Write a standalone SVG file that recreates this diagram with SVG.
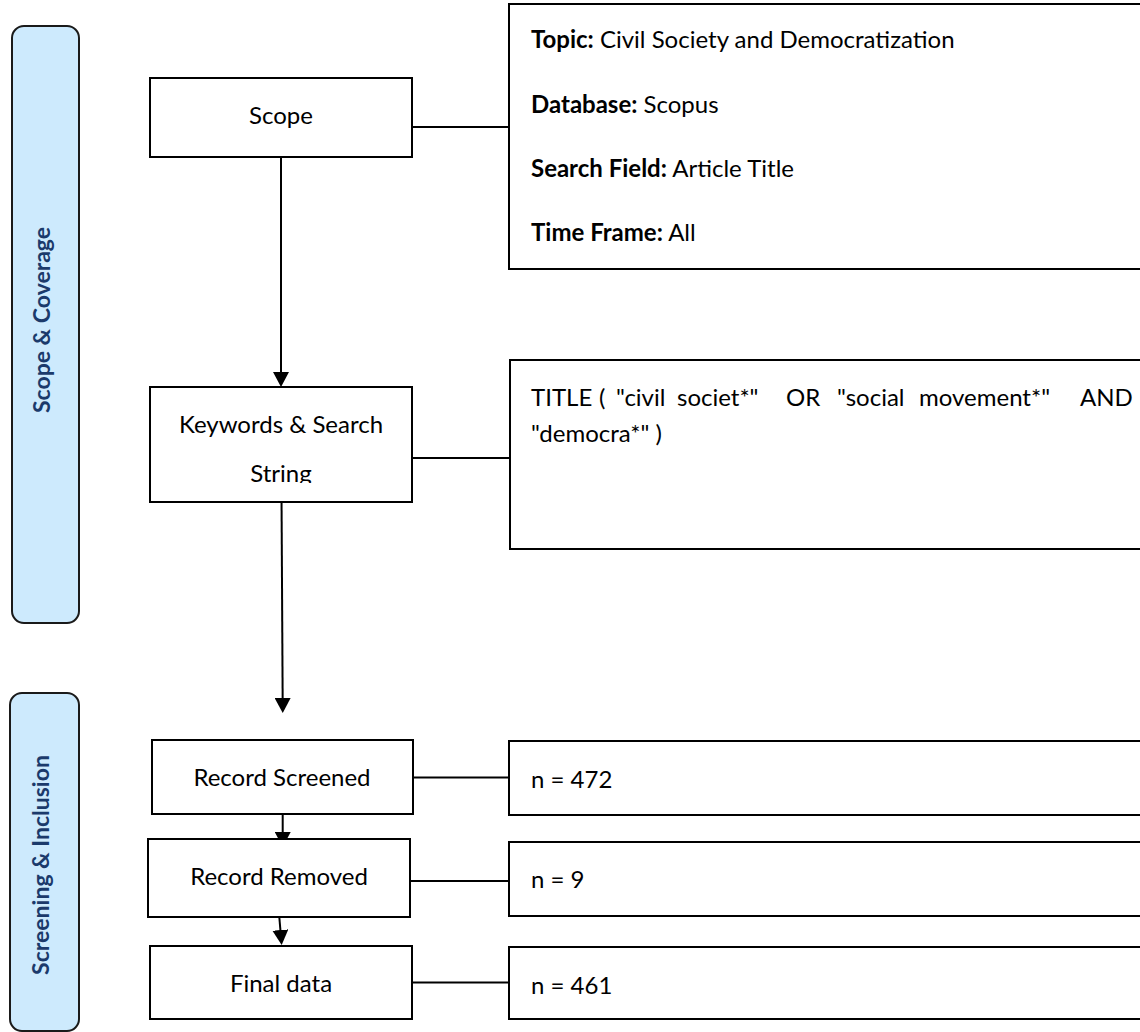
<svg xmlns="http://www.w3.org/2000/svg" width="1140" height="1032" viewBox="0 0 1140 1032">
  <defs>
    <marker id="arr" markerUnits="userSpaceOnUse" markerWidth="16" markerHeight="16" viewBox="0 0 16 16" refX="7" refY="8" orient="auto">
      <path d="M0,0 L15,8 L0,16 z" fill="#000"/>
    </marker>
    <clipPath id="kwclip"><rect x="150" y="387" width="262" height="96"/></clipPath>
  </defs>
  <style>
    .band { fill: #cdeafd; stroke: #1a1a1a; stroke-width: 2; }
    .bandtxt { font-family: Lato, "Open Sans", sans-serif; font-weight: bold; font-size: 23px; fill: #1b3a6b; text-anchor: middle; }
    .box { fill: #fff; stroke: #000; stroke-width: 2; }
    .t { font-family: Lato, "Liberation Sans", sans-serif; font-size: 24px; fill: #000; }
    .c { text-anchor: middle; }
    .b { font-weight: bold; }
    .conn line { stroke: #000; stroke-width: 2; fill: none; }
    .arrow { marker-end: url(#arr); }
  </style>
  <rect width="1140" height="1032" fill="#fff"/>

  <g id="band-scope-coverage">
    <rect class="band" x="12" y="26" width="67" height="597" rx="12"/>
    <text class="bandtxt" transform="translate(50,320) rotate(-90)">Scope &amp; Coverage</text>
  </g>
  <g id="band-screening-inclusion">
    <rect class="band" x="10" y="693" width="69" height="338" rx="12"/>
    <text class="bandtxt" transform="translate(49,865) rotate(-90)">Screening &amp; Inclusion</text>
  </g>

  <g class="conn" id="connectors">
    <line class="arrow" x1="281" y1="157" x2="281" y2="379"/>
    <line class="arrow" x1="281.5" y1="494" x2="282.7" y2="705"/>
    <line class="arrow" x1="282.7" y1="814" x2="282.7" y2="839"/>
    <line class="arrow" x1="279.3" y1="917" x2="281" y2="937"/>
    <line x1="410" y1="127" x2="509" y2="127"/>
    <line x1="412" y1="458" x2="510" y2="458"/>
    <line x1="413" y1="777.5" x2="512" y2="777.5"/>
    <line x1="410" y1="881" x2="509" y2="881"/>
    <line x1="412" y1="982.5" x2="512" y2="982.5"/>
  </g>

  <g id="node-scope">
    <rect class="box" x="150" y="78" width="262" height="79"/>
    <text class="t c" x="281" y="124">Scope</text>
  </g>
  <g id="node-scope-details">
    <rect class="box" x="509" y="4" width="645" height="265"/>
    <text class="t" x="531" y="48"><tspan class="b">Topic:</tspan> Civil Society and Democratization</text>
    <text class="t" x="531" y="113"><tspan class="b">Database:</tspan> Scopus</text>
    <text class="t" x="531" y="177"><tspan class="b">Search Field:</tspan> Article Title</text>
    <text class="t" x="531" y="241"><tspan class="b">Time Frame:</tspan> All</text>
  </g>
  <g id="node-keywords">
    <rect class="box" x="150" y="387" width="262" height="115"/>
    <g clip-path="url(#kwclip)">
      <text class="t c" x="281" y="433">Keywords &amp; Search</text>
      <text class="t c" x="281" y="482">String</text>
    </g>
  </g>
  <g id="node-search-string">
    <rect class="box" x="510" y="360" width="645" height="189"/>
    <text class="t" y="406"><tspan x="531">TITLE</tspan><tspan x="599">(</tspan><tspan x="616">"civil</tspan><tspan x="677">societ*"</tspan><tspan x="786">OR</tspan><tspan x="837">"social</tspan><tspan x="919">movement*"</tspan><tspan x="1080">AND</tspan></text>
    <text class="t" x="531" y="442">"democra*" )</text>
  </g>
  <g id="node-record-screened">
    <rect class="box" x="152" y="740" width="261" height="74"/>
    <text class="t c" x="282" y="786">Record Screened</text>
  </g>
  <g id="node-n472">
    <rect class="box" x="509" y="741" width="645" height="74"/>
    <text class="t" x="531" y="788">n = 472</text>
  </g>
  <g id="node-record-removed">
    <rect class="box" x="148" y="839" width="262" height="78"/>
    <text class="t c" x="279" y="885">Record Removed</text>
  </g>
  <g id="node-n9">
    <rect class="box" x="509" y="842" width="645" height="74"/>
    <text class="t" x="531" y="888">n = 9</text>
  </g>
  <g id="node-final-data">
    <rect class="box" x="150" y="946" width="262" height="73"/>
    <text class="t c" x="281" y="992">Final data</text>
  </g>
  <g id="node-n461">
    <rect class="box" x="509" y="947" width="645" height="72"/>
    <text class="t" x="531" y="994">n = 461</text>
  </g>
</svg>
